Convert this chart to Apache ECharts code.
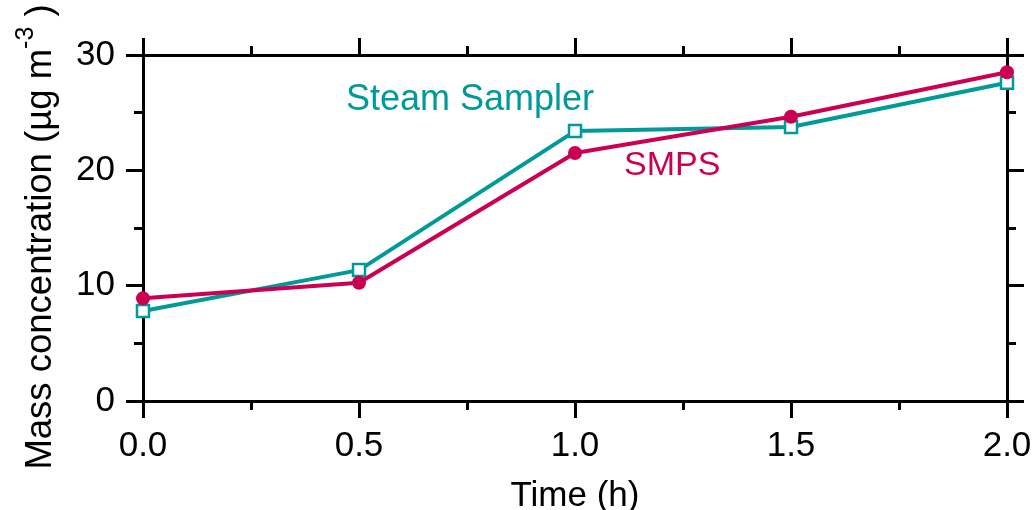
<!DOCTYPE html>
<html>
<head>
<meta charset="utf-8">
<script src="https://cdn.jsdelivr.net/npm/echarts@6/dist/echarts.min.js"></script>
<style>
  html, body { margin: 0; padding: 0; background: #ffffff; }
  #chart { width: 1035px; height: 510px; }
</style>
</head>
<body>
<div id="chart"></div>
<script>
// Sampling times (h) and mass concentrations (µg m^-3)
const times = [0.0, 0.5, 1.0, 1.5, 2.0];
const steamSampler = [7.8, 11.35, 23.4, 23.75, 27.6];
const smps = [8.9, 10.25, 21.5, 24.65, 28.5];

const xTicks = { min: 0, max: 2, interval: 0.5 };
const yTicks = { min: 0, max: 30, interval: 10 };

// Where the series names sit, in data units
const steamLabelAt = [0.757, 26.1];
const smpsLabelAt = [1.225, 20.45];

const TEAL = '#009a9a';
const CRIMSON = '#cc0052';
const FONT = '"Liberation Sans", Arial, Helvetica, sans-serif';

const pairs = (xs, ys) => xs.map((x, i) => [x, ys[i]]);

function frameAxis(extra) {
  return Object.assign({
    type: 'value',
    axisLine: { show: true, onZero: false, lineStyle: { color: '#000', width: 3 } },
    axisTick: { show: true, inside: false, length: 17, lineStyle: { color: '#000', width: 3 } },
    minorTick: { show: true, splitNumber: 2, length: 9, lineStyle: { color: '#000', width: 3 } },
    splitLine: { show: false },
    minorSplitLine: { show: false }
  }, extra);
}

const chart = echarts.init(document.getElementById('chart'), null, { renderer: 'canvas' });

chart.setOption({
  animation: false,
  backgroundColor: '#ffffff',
  textStyle: { fontFamily: FONT },
  grid: { left: 143, right: 28, top: 55, bottom: 109, containLabel: false, outerBoundsMode: 'none' },
  xAxis: [
    frameAxis({
      position: 'bottom',
      min: xTicks.min, max: xTicks.max, interval: xTicks.interval,
      name: 'Time (h)',
      nameLocation: 'middle',
      nameGap: 78,
      nameTextStyle: { fontSize: 35, color: '#000', fontFamily: FONT },
      axisLabel: {
        show: true, margin: 28, fontSize: 35, color: '#000', fontFamily: FONT,
        formatter: v => v.toFixed(1)
      }
    }),
    frameAxis({
      position: 'top',
      min: xTicks.min, max: xTicks.max, interval: xTicks.interval,
      axisLabel: { show: false }
    })
  ],
  yAxis: [
    frameAxis({
      position: 'left',
      min: yTicks.min, max: yTicks.max, interval: yTicks.interval,
      name: 'Mass concentration (µg m{sup|-3}{n| )}',
      nameLocation: 'middle',
      nameGap: 76,
      nameRotate: 90,
      nameTextStyle: {
        fontSize: 36.5, color: '#000', fontFamily: FONT,
        padding: [0, 18, 0, 0],
        rich: {
          sup: { fontSize: 25, color: '#000', fontFamily: FONT, padding: [0, 0, 28, 0] },
          n: { fontSize: 36.5, color: '#000', fontFamily: FONT }
        }
      },
      axisLabel: {
        show: true, margin: 28, fontSize: 35, color: '#000', fontFamily: FONT
      }
    }),
    frameAxis({
      position: 'right',
      min: yTicks.min, max: yTicks.max, interval: yTicks.interval,
      axisLabel: { show: false }
    })
  ],
  series: [
    {
      name: 'Steam Sampler',
      type: 'line',
      xAxisIndex: 0, yAxisIndex: 0,
      data: pairs(times, steamSampler),
      symbol: 'rect',
      symbolSize: 12,
      showAllSymbol: true,
      lineStyle: { color: TEAL, width: 4 },
      itemStyle: { color: '#ffffff', borderColor: TEAL, borderWidth: 2.5 },
      z: 3,
      markPoint: {
        symbol: 'circle', symbolSize: 0,
        label: { show: true, position: 'inside', color: TEAL, fontSize: 36, fontFamily: FONT, formatter: 'Steam Sampler' },
        data: [{ coord: steamLabelAt }]
      }
    },
    {
      name: 'SMPS',
      type: 'line',
      xAxisIndex: 0, yAxisIndex: 0,
      data: pairs(times, smps),
      symbol: 'circle',
      symbolSize: 14,
      showAllSymbol: true,
      lineStyle: { color: CRIMSON, width: 4 },
      itemStyle: { color: CRIMSON },
      z: 4,
      markPoint: {
        symbol: 'circle', symbolSize: 0,
        label: { show: true, position: 'inside', color: CRIMSON, fontSize: 34, fontFamily: FONT, formatter: 'SMPS' },
        data: [{ coord: smpsLabelAt }]
      }
    }
  ]
});
</script>
</body>
</html>
